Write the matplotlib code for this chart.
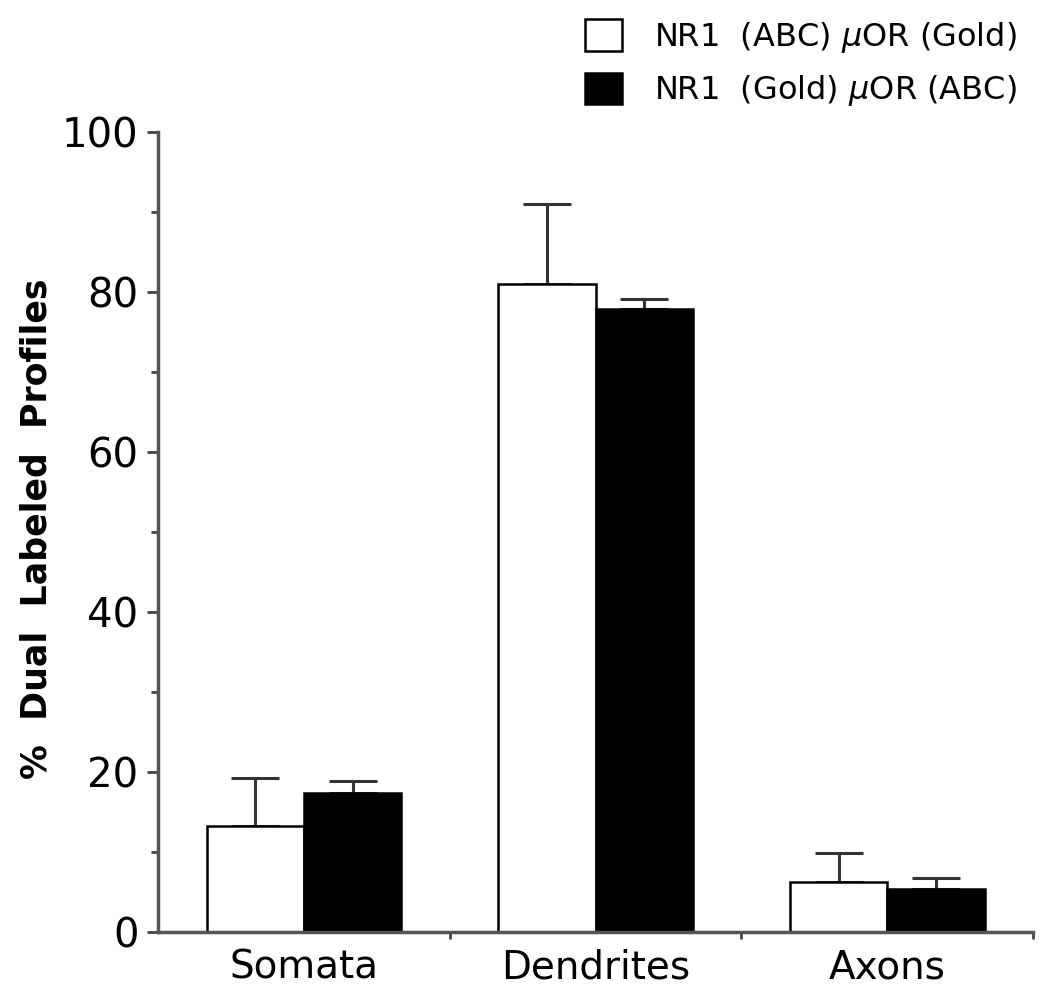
import numpy as np
import matplotlib.pyplot as plt

categories = ['Somata', 'Dendrites', 'Axons']
series_names = ['NR1  (ABC) $\\mu$OR (Gold)', 'NR1  (Gold) $\\mu$OR (ABC)']
abc_gold = [13.2, 81.0, 6.2]
abc_gold_err = [6.0, 10.0, 3.7]
gold_abc = [17.4, 77.9, 5.4]
gold_abc_err = [1.5, 1.2, 1.4]

plt.rcParams['font.family'] = ['DejaVu Sans']
plt.rcParams['mathtext.fontset'] = 'dejavusans'

fig = plt.figure(figsize=(10.5, 9.93), dpi=100)
ax = fig.add_axes([0.1505, 0.0614, 0.8335, 0.8056])

x = np.arange(len(categories))
w = 1 / 3
ax.bar(x - w / 2, abc_gold, w, color='white', edgecolor='black', linewidth=1.8,
       label=series_names[0], zorder=2)
ax.bar(x + w / 2, gold_abc, w, color='black', edgecolor='black', linewidth=1.8,
       label=series_names[1], zorder=2)
ax.errorbar(x - w / 2, abc_gold, yerr=[np.zeros(3), abc_gold_err], fmt='none',
            ecolor='#333333', elinewidth=2.2, capsize=17, capthick=2.2, zorder=1)
ax.errorbar(x + w / 2, gold_abc, yerr=[np.zeros(3), gold_abc_err], fmt='none',
            ecolor='#333333', elinewidth=2.2, capsize=17, capthick=2.2, zorder=1)

ax.set_xlim(-0.5, 2.5)
ax.set_ylim(0, 100)
ax.set_yticks([0, 20, 40, 60, 80, 100])
ax.set_yticks([10, 30, 50, 70, 90], minor=True)
ax.set_xticks(x)
ax.set_xticklabels(categories, fontsize=28)
ax.set_xticks([0.5, 1.5, 2.5], minor=True)
ax.tick_params(axis='x', which='major', length=0, pad=12)
ax.tick_params(axis='x', which='minor', length=5, width=2, color='#444444')
ax.tick_params(axis='y', which='major', length=8, width=2, color='#444444',
               labelsize=29, pad=6)
ax.tick_params(axis='y', which='minor', length=5, width=2, color='#444444')

for s in ['top', 'right']:
    ax.spines[s].set_visible(False)
for s in ['left', 'bottom']:
    ax.spines[s].set_linewidth(2.5)
    ax.spines[s].set_color('#555555')

ax.set_ylabel('%  Dual  Labeled  Profiles', fontsize=25, fontweight='bold')
ax.yaxis.set_label_coords(-0.12, 0.504)

fig.legend(loc='upper left', bbox_to_anchor=(0.536, 1.003), frameon=False,
           fontsize=23, handlelength=1.15, handleheight=1.15, handletextpad=1.0,
           labelspacing=0.55, borderaxespad=0.3)

fig.savefig('out.png', dpi=100)
